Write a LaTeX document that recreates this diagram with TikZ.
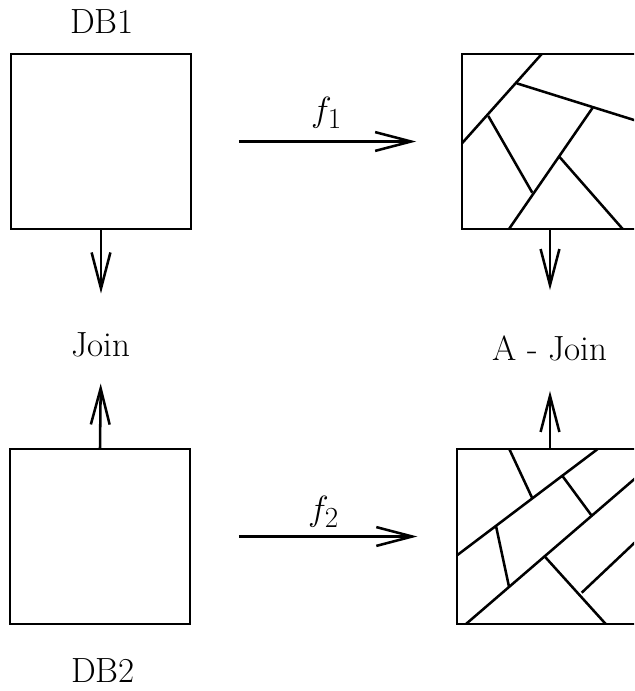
\documentclass[tikz,border=0pt]{standalone}
\usetikzlibrary{arrows.meta}
\begin{document}
\begin{tikzpicture}[
		x=0.025cm, y=-0.025cm,
		bx/.style = {rectangle, draw, line width=1.2pt, minimum width=4.5cm, minimum height=4.375cm},
		tx/.style = {font=\Huge, inner sep=0pt},
		ar/.style = {-{Straight Barb[length=0.9cm, width=0.47cm]}, line width=1.8pt},
		ct/.style = {line width=1.8pt}
		]
		\useasboundingbox (0, 0) rectangle (634, 691);
		\clip (0, 0) rectangle (634, 691);
		
		% === === Nodes === ===
		\node[tx]	(lab1)	at	(102, 22)		{DB1};
		\node[bx]	(db1)	at	(101, 141.5)	{};
		\node[tx]	(join)	at	(101, 345)		{Join};
		\node[bx]	(db2)	at	(100, 536.5)	{};
		\node[tx]	(lab2)	at	(103, 671)		{DB2};
		
		\node[bx]	(ab1)	at	(552, 141.5)	{};
		\node[tx]	(ajoin)	at	(550, 348)		{A - Join};
		\node[bx]	(ab2)	at	(547, 536.5)	{};
		
		% === === Lines === ===
		\draw[ar, shorten <=1.175cm, shorten >=1.125cm]	(db1.east)	to	node[tx, above=0.3cm]	{$f_1$}	(ab1.west);
		\draw[ar, shorten <=1.2cm, shorten >=0.97cm]	(db2.east)	to	node[tx, above=0.2cm]	{$f_2$}	(ab2.west);
		
		\draw[ar, shorten >=0.975cm]	(db1.south)		to	(join.north);
		\draw[ar, shorten >=0.65cm]		(db2.north)		to	(join.south);
		\draw[ar, shorten >=1.125cm]	(ajoin.north |- ab1.south)	to	(ajoin.north);
		\draw[ar, shorten >=0.75cm]		(ajoin.south |- ab2.north)	to	(ajoin.south);
		
		% === === Pieces === ===
		\draw[ct]	(541.7, 54)		to	(462, 143.3);
		\draw[ct]	(516.7, 83.3)	to	(642, 122.5);
		\draw[ct]	(488.3, 116)	to	(532.3, 192.7);
		\draw[ct]	(592.7, 107.7)	to	(509, 229);
		\draw[ct]	(559.3, 156.7)	to	(622.7, 229);
		
		\draw[ct]	(509.3, 449)	to	(532.3, 498.3);
		\draw[ct]	(597.7, 449)	to	(457, 555.3);
		\draw[ct]	(561.7, 475)	to	(591.7, 515.7);
		\draw[ct]	(642, 472.5)	to	(466, 624);
		\draw[ct]	(496, 526)		to	(509, 586.7);
		\draw[ct]	(544, 555.7)	to	(605.7, 624);
		\draw[ct]	(642, 535.7)	to	(581.7, 592.7);
		
	\end{tikzpicture}
\end{document}
